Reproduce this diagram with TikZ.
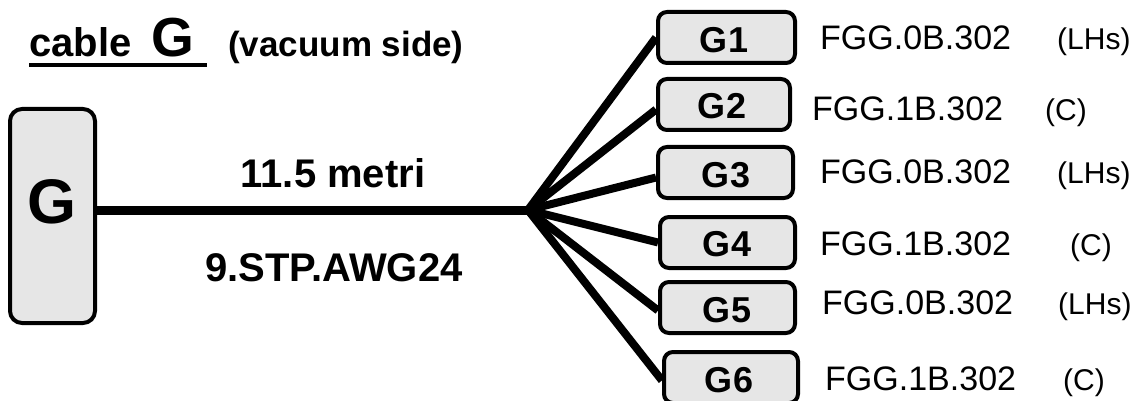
\documentclass[tikz,border=0pt]{standalone}
\usepackage{fontspec}
\setmainfont{Liberation Sans}
\usetikzlibrary{calc}
\definecolor{boxfill}{HTML}{E6E6E6}
\tikzset{
  conn/.style={draw=black, fill=boxfill, line width=4pt, rounded corners=9pt, inner sep=0pt, minimum height=51pt},
  boxlab/.style={font=\fontsize{36}{40}\selectfont\bfseries, anchor=base, inner sep=0pt},
  code/.style={font=\fontsize{34}{38}\selectfont, anchor=base west, inner sep=0pt},
  kind/.style={font=\fontsize{30}{34}\selectfont, anchor=base west, inner sep=0pt},
  cable/.style={line width=9pt},
  branch/.style={line width=8pt},
  big/.style={font=\fontsize{40}{44}\selectfont\bfseries, anchor=base, inner sep=0pt}
}
\begin{document}
\begin{tikzpicture}[x=1pt,y=-1pt]
\useasboundingbox (0,0) rectangle (1135,401);
% title
\node[anchor=base west, inner sep=0pt, font=\fontsize{40}{44}\selectfont\bfseries] (t1) at (29,57)
  {cable\hspace{20pt}{\fontsize{55}{58}\selectfont G}};
\draw[line width=4pt] ([yshift=-8pt]t1.base west) -- ++(178,0);
\node[anchor=base west, inner sep=0pt, font=\fontsize{35}{40}\selectfont\bfseries] (t2) at (228,57) {(vacuum side)};
% main box
\node[draw=black, fill=boxfill, line width=4pt, rounded corners=12pt, minimum width=85pt, minimum height=214pt, inner sep=0pt] (G) at (52.5,216) {};
\node[anchor=base, inner sep=0pt, font=\fontsize{63}{66}\selectfont\bfseries] (Glab) at (52.5,223.5) {G};
% cable labels
\node[big] (len) at (333,187) {11.5 metri};
\node[big] (typ) at (334,281) {9.STP.AWG24};
% connector boxes
\node[conn, minimum width=137pt] (G1) at (726.5,37.5) {};
\node[conn, minimum width=132pt] (G2) at (724,104.5) {};
\node[conn, minimum width=135pt] (G3) at (725.5,172.5) {};
\node[conn, minimum width=135pt] (G4) at (727.5,242.5) {};
\node[conn, minimum width=135pt] (G5) at (727.5,307.5) {};
\node[conn, minimum width=134pt] (G6) at (731,377.5) {};
\node[boxlab] at (724,53) {G1};
\node[boxlab] at (722,119) {G2};
\node[boxlab] at (726,187) {G3};
\node[boxlab] at (727,256) {G4};
\node[boxlab] at (727,322) {G5};
\node[boxlab] at (729,392) {G6};
% codes
\node[code] (c1) at (820,50) {FGG.0B.302};
\node[code] (c2) at (812,121) {FGG.1B.302};
\node[code] (c3) at (820,183) {FGG.0B.302};
\node[code] (c4) at (820,255) {FGG.1B.302};
\node[code] (c5) at (822,314) {FGG.0B.302};
\node[code] (c6) at (825,390) {FGG.1B.302};
\node[kind] (k1) at (1057,50) {(LHs)};
\node[kind] (k2) at (1045,121) {(C)};
\node[kind] (k3) at (1057,183) {(LHs)};
\node[kind] (k4) at (1070,255) {(C)};
\node[kind] (k5) at (1058,314) {(LHs)};
\node[kind] (k6) at (1063,390) {(C)};
% cable
\coordinate (J) at (528,210);
\draw[cable] (G.east |- J) -- (J);
\draw[branch] (J) -- (G1.west);
\draw[branch] (J) -- ([yshift=-5pt]G2.west);
\draw[branch] (J) -- ([yshift=-5pt]G3.west);
\draw[branch] (J) -- (G4.west);
\draw[branch] (J) -- ([yshift=-3pt]G5.west);
\draw[branch] (J) -- ([yshift=-3pt]G6.west);
\end{tikzpicture}
\end{document}
